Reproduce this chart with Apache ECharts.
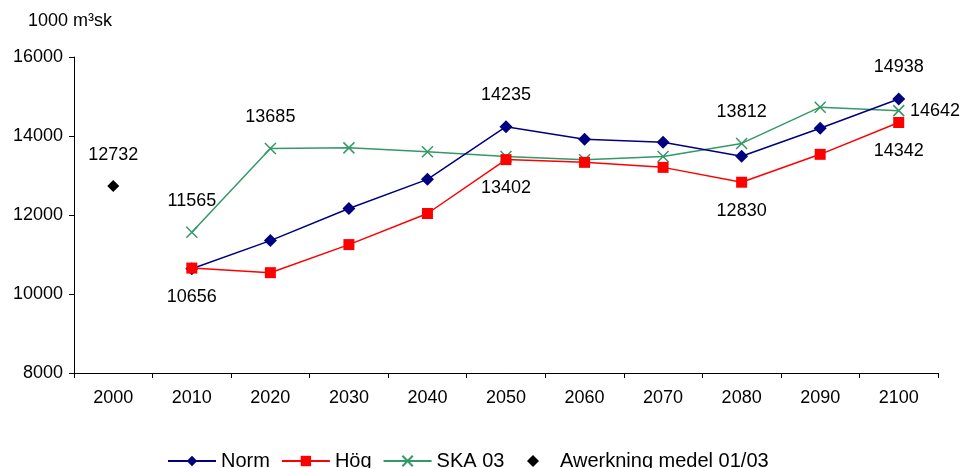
<!DOCTYPE html>
<html><head><meta charset="utf-8">
<script src="https://cdn.jsdelivr.net/npm/echarts@6/dist/echarts.min.js"></script>
<style>html,body{margin:0;padding:0;background:#fff}#c{width:962px;height:468px}</style>
</head><body><div id="c"></div>
<script>
const categories = ['2000','2010','2020','2030','2040','2050','2060','2070','2080','2090','2100'];
const norm = [null, 10641, 11352, 12165, 12902, 14235, 13917, 13841, 13486, 14197, 14938];
const hog  = [null, 10656, 10540, 11251, 12038, 13402, 13333, 13206, 12830, 13536, 14342];
const ska  = [null, 11565, 13685, 13700, 13600, 13480, 13400, 13480, 13812, 14730, 14642];
const avverkning = [12732, null, null, null, null, null, null, null, null, null, null];
const yTicks = [8000, 10000, 12000, 14000, 16000];

// which points get a value label, and where
const normLabels = {5: 'top', 10: 'top'};
const hogLabels = {1: 'bottom', 5: 'bottom', 8: 'bottom', 10: 'bottom'};
const skaLabels = {1: 'top', 2: 'top', 8: 'top', 10: 'right'};
const avvLabels = {0: 'top'};

const FONT = 'Liberation Sans, Arial, sans-serif';
function build(vals, labels) {
  return vals.map((v, i) => {
    if (v === null) return '-';
    const pos = labels[i];
    if (!pos) return v;
    const dist = pos === 'right' ? 5 : (pos === 'top' ? 16 : 14);
    return { value: v, label: { show: true, position: pos, distance: dist, color: '#000' } };
  });
}
const labelStyle = { show: false, color: '#000', fontSize: 18, fontFamily: FONT };

const chart = echarts.init(document.getElementById('c'));
chart.setOption({
  animation: false,
  backgroundColor: '#fff',
  textStyle: { fontFamily: FONT },
  grid: { left: 74, right: 24, top: 57, bottom: 95 },
  legend: [
    {
      top: 451, left: 167, padding: 0, itemWidth: 48, itemHeight: 13, itemGap: 11,
      textStyle: { fontSize: 20, color: '#000', fontFamily: FONT },
      data: ['Norm', 'Hög', 'SKA 03']
    },
    {
      top: 451, left: 527, padding: 0, itemWidth: 12, itemHeight: 12,
      textStyle: { fontSize: 20, color: '#000', fontFamily: FONT, padding: [0, 0, 0, 16] },
      data: ['Awerkning medel 01/03']
    }
  ],
  xAxis: {
    type: 'category', data: categories, boundaryGap: true,
    axisLine: { lineStyle: { color: '#000', width: 1 } },
    axisTick: { show: true, length: 5, inside: false, lineStyle: { color: '#000' } },
    axisLabel: { color: '#000', fontSize: 18, margin: 16, fontFamily: FONT },
    splitLine: { show: false }
  },
  yAxis: {
    type: 'value', min: yTicks[0], max: yTicks[yTicks.length - 1], interval: 2000,
    name: '1000 m³sk', nameLocation: 'end', nameGap: 27,
    nameTextStyle: { color: '#000', fontSize: 18, fontFamily: FONT, align: 'center', padding: [0, 8, 0, 0] },
    axisLine: { show: true, lineStyle: { color: '#000', width: 1 } },
    axisTick: { show: true, length: 5, lineStyle: { color: '#000' } },
    axisLabel: { color: '#000', fontSize: 18, margin: 11, fontFamily: FONT, formatter: v => String(v) },
    splitLine: { show: false }
  },
  series: [
    {
      name: 'Norm', type: 'line', data: build(norm, normLabels),
      symbol: 'diamond', symbolSize: 13, z: 3,
      itemStyle: { color: '#000080' }, lineStyle: { color: '#000080', width: 1.5 },
      label: labelStyle
    },
    {
      name: 'Hög', type: 'line', data: build(hog, hogLabels),
      symbol: 'rect', symbolSize: 11, z: 4,
      itemStyle: { color: '#FF0000' }, lineStyle: { color: '#FF0000', width: 1.5 },
      label: labelStyle
    },
    {
      name: 'SKA 03', type: 'line', data: build(ska, skaLabels),
      symbol: 'path://M0,0L10,10M10,0L0,10', symbolSize: 11, z: 2,
      itemStyle: { color: 'rgba(0,0,0,0)', borderColor: '#339966', borderWidth: 1.5 },
      lineStyle: { color: '#339966', width: 1.5 },
      label: labelStyle
    },
    {
      name: 'Awerkning medel 01/03', type: 'scatter', data: build(avverkning, avvLabels),
      symbol: 'diamond', symbolSize: 12,
      itemStyle: { color: '#000', opacity: 1 },
      label: labelStyle
    }
  ]
});
</script></body></html>
